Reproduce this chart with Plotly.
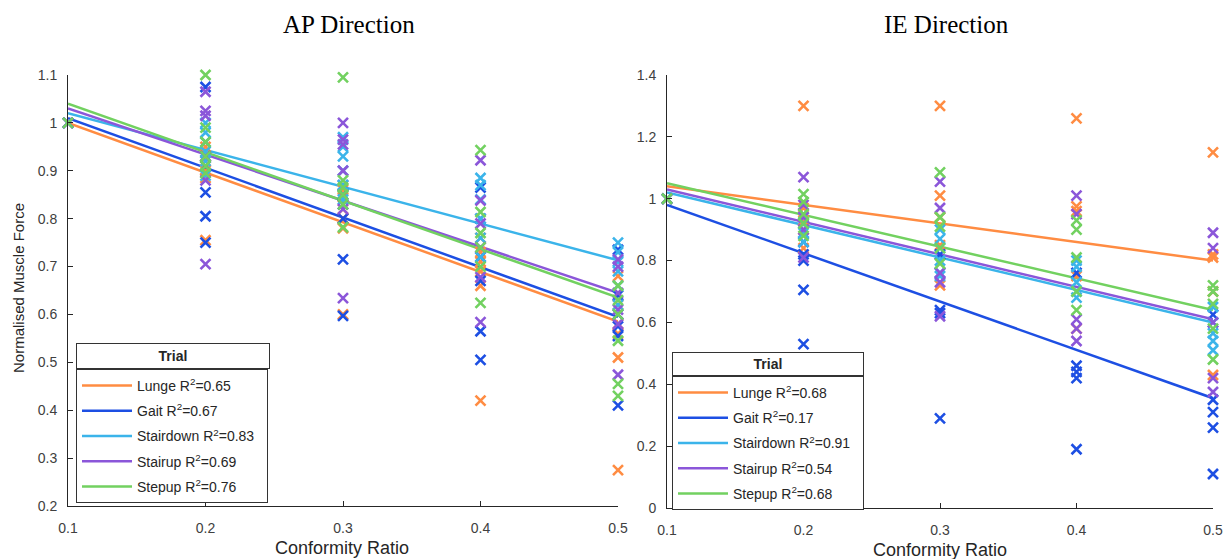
import plotly.graph_objects as go

# Conformity ratios on the x axis; every trial is normalised to 1 at 0.1
conformity = [0.1, 0.2, 0.3, 0.4, 0.5]
trials = ["Lunge", "Gait", "Stairdown", "Stairup", "Stepup"]
colors = ["#FF8C42", "#1D4FE3", "#3BB4EA", "#8B56D9", "#72D160"]

ap_r2 = ["0.65", "0.67", "0.83", "0.69", "0.76"]
ie_r2 = ["0.68", "0.17", "0.91", "0.54", "0.68"]

# AP direction: subject values at conformity 0.2, 0.3, 0.4, 0.5
ap_lunge = [[0.755, 0.885, 0.90, 0.92, 0.93, 0.95],
            [0.60, 0.78, 0.80, 0.82, 0.845, 0.86],
            [0.42, 0.66, 0.69, 0.71, 0.73, 0.76],
            [0.275, 0.51, 0.56, 0.58, 0.62, 0.68]]
ap_gait = [[0.75, 0.805, 0.855, 0.91, 0.93, 1.075],
           [0.597, 0.715, 0.80, 0.83, 0.85, 0.87],
           [0.505, 0.565, 0.67, 0.72, 0.80, 0.865],
           [0.41, 0.555, 0.575, 0.60, 0.64, 0.735]]
ap_stairdown = [[0.89, 0.92, 0.94, 0.96, 0.98, 1.0],
                [0.84, 0.87, 0.90, 0.93, 0.95, 0.97],
                [0.72, 0.76, 0.80, 0.84, 0.87, 0.885],
                [0.62, 0.66, 0.69, 0.71, 0.73, 0.75]]
ap_stairup = [[0.705, 0.88, 0.93, 1.015, 1.025, 1.065],
              [0.634, 0.82, 0.90, 0.955, 0.965, 1.0],
              [0.584, 0.678, 0.74, 0.79, 0.838, 0.922],
              [0.474, 0.58, 0.61, 0.645, 0.70, 0.715]]
ap_stepup = [[0.895, 0.91, 0.93, 0.96, 0.99, 1.10],
             [0.782, 0.83, 0.85, 0.865, 0.88, 1.095],
             [0.624, 0.70, 0.74, 0.77, 0.814, 0.943],
             [0.43, 0.455, 0.545, 0.60, 0.63, 0.66]]

# IE direction: subject values at conformity 0.2, 0.3, 0.4, 0.5
ie_lunge = [[0.84, 0.90, 0.93, 0.97, 1.30],
            [0.72, 0.85, 0.94, 1.01, 1.30],
            [0.58, 0.75, 0.96, 0.975, 1.26],
            [0.43, 0.70, 0.81, 0.82, 1.15]]
ie_gait = [[0.53, 0.705, 0.80, 0.82, 0.86],
           [0.29, 0.63, 0.64, 0.76, 0.82],
           [0.19, 0.42, 0.44, 0.46, 0.76],
           [0.11, 0.26, 0.31, 0.35, 0.625]]
ie_stairdown = [[0.86, 0.89, 0.92, 0.94, 0.95],
                [0.75, 0.80, 0.84, 0.87, 0.90],
                [0.68, 0.70, 0.73, 0.78, 0.80],
                [0.51, 0.54, 0.565, 0.60, 0.65]]
ie_stairup = [[0.81, 0.90, 0.94, 0.98, 1.07],
              [0.62, 0.73, 0.76, 0.97, 1.055],
              [0.54, 0.58, 0.61, 0.95, 1.01],
              [0.375, 0.42, 0.60, 0.84, 0.89]]
ie_stepup = [[0.88, 0.92, 0.95, 0.99, 1.015],
             [0.79, 0.84, 0.91, 0.94, 1.085],
             [0.64, 0.70, 0.81, 0.90, 0.93],
             [0.48, 0.58, 0.66, 0.70, 0.72]]

# Linear fit values at conformity 0.1 and 0.5
ap_fit_start = [1.00, 1.01, 1.02, 1.03, 1.04]
ap_fit_end = [0.585, 0.595, 0.713, 0.645, 0.635]
ie_fit_start = [1.04, 0.98, 1.02, 1.03, 1.05]
ie_fit_end = [0.80, 0.355, 0.60, 0.61, 0.64]

ap_yticks = [0.2, 0.3, 0.4, 0.5, 0.6, 0.7, 0.8, 0.9, 1.0, 1.1]
ap_yticktext = ["0.2", "0.3", "0.4", "0.5", "0.6", "0.7", "0.8", "0.9", "1", "1.1"]
ie_yticks = [0, 0.2, 0.4, 0.6, 0.8, 1.0, 1.2, 1.4]
ie_yticktext = ["0", "0.2", "0.4", "0.6", "0.8", "1", "1.2", "1.4"]
xticktext = ["0.1", "0.2", "0.3", "0.4", "0.5"]

W, H = 1228, 559
SANS = "Liberation Sans, Arial, sans-serif"
NBSP = "\u00a0"
fig = go.Figure()


def add_panel(points, fit_start, fit_end, r2, xa, ya, legend, tag):
    # regression lines first so the markers sit on top
    for i, name in enumerate(trials):
        fig.add_trace(go.Scatter(
            x=[conformity[0], conformity[-1]], y=[fit_start[i], fit_end[i]],
            mode="lines", line=dict(color=colors[i], width=2.5),
            name=f"{name} R<sup>2</sup>={r2[i]}{NBSP * 2}", legendgroup=f"{tag}{i}",
            xaxis=xa, yaxis=ya, legend=legend, showlegend=True,
        ))
    for i, name in enumerate(trials):
        xs, ys = [conformity[0]], [1.0]
        for j, col in enumerate(points[i]):
            xs += [conformity[j + 1]] * len(col)
            ys += col
        fig.add_trace(go.Scatter(
            x=xs, y=ys, mode="markers", cliponaxis=False,
            marker=dict(symbol="x-thin", size=10, color=colors[i],
                        line=dict(color=colors[i], width=2.6)),
            xaxis=xa, yaxis=ya, showlegend=False, hoverinfo="skip",
        ))


add_panel([ap_lunge, ap_gait, ap_stairdown, ap_stairup, ap_stepup],
          ap_fit_start, ap_fit_end, ap_r2, "x", "y", "legend", "ap")
add_panel([ie_lunge, ie_gait, ie_stairdown, ie_stairup, ie_stepup],
          ie_fit_start, ie_fit_end, ie_r2, "x2", "y2", "legend2", "ie")

tickfont = dict(family=SANS, size=14, color="#404040")
axis_common = dict(showline=True, linecolor="#262626", linewidth=1, mirror=False,
                   ticks="inside", ticklen=5, tickcolor="#262626", showgrid=False,
                   zeroline=False, tickfont=tickfont, automargin=False)

legend_common = dict(
    bgcolor="white", bordercolor="#333333", borderwidth=1,
    font=dict(family=SANS, size=14, color="#262626"),
    xanchor="left", yanchor="top", itemwidth=50, tracegroupgap=4,
)

fig.update_layout(
    width=W, height=H, margin=dict(l=0, r=0, t=0, b=0, autoexpand=False),
    paper_bgcolor="white", plot_bgcolor="white",
    xaxis=dict(domain=[68 / W, 618 / W], range=[0.1, 0.5], tickvals=conformity,
               ticktext=xticktext, anchor="y", ticklabelstandoff=9, **axis_common),
    yaxis=dict(domain=[1 - 506 / H, 1 - 75 / H], range=[0.2, 1.1], tickvals=ap_yticks,
               ticktext=ap_yticktext, anchor="x", ticklabelstandoff=7, **axis_common),
    xaxis2=dict(domain=[667 / W, 1213 / W], range=[0.1, 0.5], tickvals=conformity,
                ticktext=xticktext, anchor="y2", ticklabelstandoff=9, **axis_common),
    yaxis2=dict(domain=[1 - 508 / H, 1 - 75 / H], range=[0, 1.4], tickvals=ie_yticks,
                ticktext=ie_yticktext, anchor="x2", ticklabelstandoff=7, **axis_common),
    legend=dict(x=76 / W, y=1 - 369 / H, **legend_common),
    legend2=dict(x=672 / W, y=1 - 376 / H, **legend_common),
)

title_font = dict(family="Liberation Serif, Times New Roman, serif", size=25, color="black")
xlabel_font = dict(family=SANS, size=18, color="#262626")
ylabel_font = dict(family=SANS, size=15, color="#262626")
annotations = [
    dict(text="AP Direction", x=349 / W, y=1 - 25 / H, font=title_font),
    dict(text="IE Direction", x=946 / W, y=1 - 25 / H, font=title_font),
    dict(text="Conformity Ratio", x=342 / W, y=1 - 548 / H, font=xlabel_font),
    dict(text="Conformity Ratio", x=940 / W, y=1 - 550 / H, font=xlabel_font),
    dict(text="Normalised Muscle Force", x=18 / W, y=1 - 288 / H, textangle=-90, font=ylabel_font),
]
for a in annotations:
    fig.add_annotation(xref="paper", yref="paper", showarrow=False,
                       xanchor="center", yanchor="middle", **a)

# legend header boxes
for x0, x1, y0, y1 in [(76, 270, 343, 369), (672, 864, 352, 376)]:
    fig.add_annotation(
        text="<b>Trial</b>", xref="paper", yref="paper", showarrow=False,
        x=x0 / W, y=1 - y0 / H, xanchor="left", yanchor="top",
        width=x1 - x0 - 2, height=y1 - y0 - 2, align="center", valign="middle",
        bgcolor="white", bordercolor="#333333", borderwidth=1, borderpad=0,
        font=dict(family=SANS, size=14, color="#262626"),
    )

fig.write_html("out.html")
